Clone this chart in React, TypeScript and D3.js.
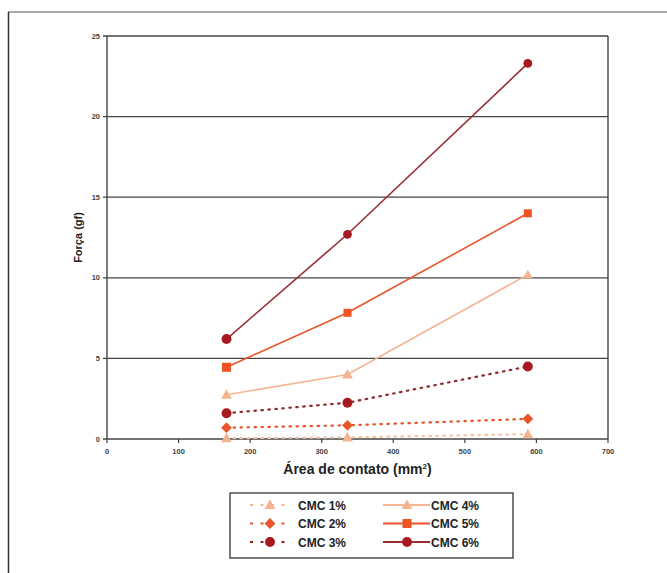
import React from "react";
import * as d3 from "d3";

const xValues = [167, 336, 588];
const xTicks = [0, 100, 200, 300, 400, 500, 600, 700];
const yTicks = [0, 5, 10, 15, 20, 25];

const seriesNames = ["CMC 1%", "CMC 2%", "CMC 3%", "CMC 4%", "CMC 5%", "CMC 6%"];
const cmc1 = [0.05, 0.1, 0.3];
const cmc2 = [0.7, 0.85, 1.25];
const cmc3 = [1.6, 2.25, 4.5];
const cmc4 = [2.75, 4.0, 10.2];
const cmc5 = [4.45, 7.83, 14.0];
const cmc6 = [6.2, 12.7, 23.3];

const seriesStyles = [
  { values: cmc1, color: "#f5b48f", line: "#f5c2a6", marker: "triangle", dashed: true },
  { values: cmc2, color: "#e8552a", line: "#e8552a", marker: "diamond", dashed: true },
  { values: cmc3, color: "#a8191f", line: "#8c2a30", marker: "circle", dashed: true },
  { values: cmc4, color: "#f5b48f", line: "#f3b592", marker: "triangle", dashed: false },
  { values: cmc5, color: "#ee5320", line: "#e8552a", marker: "square", dashed: false },
  { values: cmc6, color: "#a8191f", line: "#973036", marker: "circle", dashed: false },
];

function Marker({ type, x, y, color, size }: { type: string; x: number; y: number; color: string; size: number }) {
  if (type === "circle") return <circle cx={x} cy={y} r={size * 0.55} fill={color} />;
  if (type === "square") return <rect x={x - size / 2} y={y - size / 2} width={size} height={size} fill={color} />;
  if (type === "diamond") {
    const s = size * 0.6;
    return <path d={`M${x},${y - s}L${x + s},${y}L${x},${y + s}L${x - s},${y}Z`} fill={color} />;
  }
  const s = size * 0.6;
  return <path d={`M${x},${y - s}L${x + s},${y + s * 0.75}L${x - s},${y + s * 0.75}Z`} fill={color} />;
}

export default function App() {
  const W = 667, H = 573;
  const left = 107, right = 608, top = 36, bottom = 439;
  const x = d3.scaleLinear().domain([0, 700]).range([left, right]);
  const y = d3.scaleLinear().domain([0, 25]).range([bottom, top]);
  const line = d3.line<number>().x((_, i) => x(xValues[i])).y((d) => y(d));
  const font = "'Liberation Sans', Arial, sans-serif";
  const gridColor = "#444";

  const legendRows = [0, 1, 2];
  const rowY = [505, 523.5, 542];

  return (
    <svg width={W} height={H} style={{ position: "absolute", left: 0, top: 0, background: "#fff" }} fontFamily={font}>
      <rect x={0} y={0} width={W} height={H} fill="#fff" />
      {/* outer frame */}
      <line x1={8} y1={12} x2={W} y2={12} stroke="#555" strokeWidth={1.2} />
      <line x1={8.5} y1={12} x2={8.5} y2={H} stroke="#333" strokeWidth={1.5} />

      {/* gridlines */}
      {yTicks.map((t) => (
        <g key={t}>
          <line x1={left - 4} x2={right} y1={y(t)} y2={y(t)} stroke={gridColor} strokeWidth={1.3} />
          <text x={left - 7} y={y(t) + 2.5} fontSize={7.5} fill="#444" textAnchor="end" fontWeight="bold">
            {t}
          </text>
        </g>
      ))}
      <line x1={left} x2={left} y1={top} y2={bottom} stroke={gridColor} strokeWidth={1.4} />
      <line x1={right} x2={right} y1={top} y2={bottom} stroke={gridColor} strokeWidth={1.4} />
      {xTicks.map((t) => (
        <g key={t}>
          <line x1={x(t)} x2={x(t)} y1={bottom} y2={bottom + 4} stroke={gridColor} strokeWidth={1.2} />
          <text x={x(t)} y={bottom + 15} fontSize={7.5} fill="#444" textAnchor="middle" fontWeight="bold">
            {t}
          </text>
        </g>
      ))}

      {/* series */}
      {seriesStyles.map((s, i) => (
        <g key={seriesNames[i]}>
          <path
            d={line(s.values) || ""}
            fill="none"
            stroke={s.line}
            strokeWidth={s.dashed ? 2.2 : 1.6}
            strokeDasharray={s.dashed ? "1.5,5.5" : undefined}
            strokeLinecap="round"
          />
          {s.values.map((v, j) => (
            <Marker key={j} type={s.marker} x={x(xValues[j])} y={y(v)} color={s.color} size={i >= 3 && j > 0 && v > 7 ? 8 : 9} />
          ))}
        </g>
      ))}

      {/* axis titles */}
      <text
        transform={`translate(${82},${y(12.5)}) rotate(-90)`}
        textAnchor="middle"
        fontSize={11}
        fontWeight="bold"
        fill="#222"
      >
        Força (gf)
      </text>
      <text x={(left + right) / 2} y={474} textAnchor="middle" fontSize={14} fontWeight="bold" fill="#222">
        Área de contato (mm<tspan dy={-5} fontSize={8}>2</tspan>
        <tspan dy={5}>)</tspan>
      </text>

      {/* legend */}
      <rect x={230} y={493} width={283} height={65} fill="#fff" stroke="#333" strokeWidth={1.3} />
      {legendRows.map((r) => {
        const a = seriesStyles[r];
        const b = seriesStyles[r + 3];
        return (
          <g key={r}>
            <line x1={250} x2={292} y1={rowY[r]} y2={rowY[r]} stroke={a.color} strokeWidth={2.2} strokeDasharray="3,7.5" />
            <Marker type={a.marker} x={270} y={rowY[r]} color={a.color} size={9} />
            <text x={298} y={rowY[r] + 4.5} fontSize={12} fill="#222" fontWeight="bold">
              {seriesNames[r]}
            </text>
            <line x1={383} x2={430} y1={rowY[r]} y2={rowY[r]} stroke={b.line} strokeWidth={1.8} />
            <Marker type={b.marker} x={407} y={rowY[r]} color={b.color} size={9} />
            <text x={431} y={rowY[r] + 4.5} fontSize={12} fill="#222" fontWeight="bold">
              {seriesNames[r + 3]}
            </text>
          </g>
        );
      })}
    </svg>
  );
}
